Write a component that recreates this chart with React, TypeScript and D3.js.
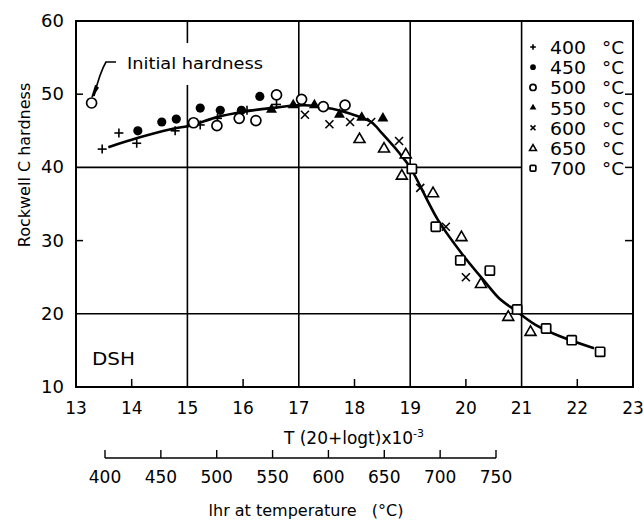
import React from "react";
import * as d3 from "d3";

const W = 643;
const H = 520;

const xTicks = [13, 14, 15, 16, 17, 18, 19, 20, 21, 22, 23];
const yTicks = [10, 20, 30, 40, 50, 60];
const tempTicks = [400, 450, 500, 550, 600, 650, 700, 750];
const xGrid = [15, 17, 19, 21];

const initialPoint: [number, number][] = [[13.28, 48.8]];
const s400: [number, number][] = [
  [13.47, 42.5], [13.77, 44.7], [14.09, 43.3], [14.78, 45.0], [15.23, 45.8],
  [15.54, 46.7], [16.07, 47.8], [16.6, 48.6],
];
const s450: [number, number][] = [
  [14.11, 45.0], [14.54, 46.2], [14.8, 46.6], [15.23, 48.1], [15.59, 47.8],
  [15.97, 47.8], [16.3, 49.7],
];
const s500: [number, number][] = [
  [15.11, 46.1], [15.53, 45.7], [15.93, 46.7], [16.23, 46.4], [16.6, 49.9],
  [17.05, 49.3], [17.44, 48.3], [17.83, 48.5],
];
const s550: [number, number][] = [
  [16.51, 47.9], [16.9, 48.5], [17.28, 48.5], [17.73, 47.2], [18.13, 46.8],
  [18.51, 46.7],
];
const s600: [number, number][] = [
  [17.11, 47.2], [17.55, 45.9], [17.92, 46.2], [18.3, 46.2], [18.8, 43.6],
  [19.18, 37.2], [19.64, 31.9], [20.0, 25.0],
];
const s650: [number, number][] = [
  [18.09, 43.9], [18.53, 42.6], [18.92, 41.8], [18.85, 38.9], [19.41, 36.5],
  [19.92, 30.5], [20.27, 24.1], [20.76, 19.6], [21.16, 17.55],
];
const s700: [number, number][] = [
  [19.03, 39.8], [19.46, 31.9], [19.9, 27.3], [20.43, 25.9], [20.92, 20.6],
  [21.44, 18.0], [21.9, 16.4], [22.41, 14.8],
];
const curve: [number, number][] = [
  [13.58, 42.75], [14.1, 44.0], [14.7, 45.2], [15.1, 45.8], [15.5, 46.8],
  [16.0, 47.6], [16.5, 48.1], [17.1, 48.5], [17.6, 48.0], [17.9, 47.4],
  [18.3, 46.2], [18.5, 44.6], [18.8, 42.0], [19.0, 40.0], [19.5, 32.8],
  [19.95, 28.0], [20.35, 24.3], [20.6, 22.1], [20.9, 20.4], [21.25, 18.5],
  [21.7, 16.9], [22.3, 15.3],
];

const legendLabels = ["400", "450", "500", "550", "600", "650", "700"];
type Kind = "plus" | "dot" | "circle" | "tri" | "x" | "otri" | "square";
const kinds: Kind[] = ["plus", "dot", "circle", "tri", "x", "otri", "square"];
const seriesList = [s400, s450, s500, s550, s600, s650, s700];

const FONT = "DejaVu Sans, Arial, sans-serif";

function Marker({ kind, cx, cy, s = 1 }: { kind: Kind; cx: number; cy: number; s?: number }) {
  const sw = 1.6;
  if (kind === "plus") {
    const a = 4.5 * s;
    return (
      <g stroke="#000" strokeWidth={sw}>
        <line x1={cx - a} y1={cy} x2={cx + a} y2={cy} />
        <line x1={cx} y1={cy - a} x2={cx} y2={cy + a} />
      </g>
    );
  }
  if (kind === "x") {
    const a = 4 * s;
    return (
      <g stroke="#000" strokeWidth={sw}>
        <line x1={cx - a} y1={cy - a} x2={cx + a} y2={cy + a} />
        <line x1={cx - a} y1={cy + a} x2={cx + a} y2={cy - a} />
      </g>
    );
  }
  if (kind === "dot") return <circle cx={cx} cy={cy} r={4.6 * s} fill="#000" />;
  if (kind === "circle")
    return <circle cx={cx} cy={cy} r={5 * s} fill="#fff" stroke="#000" strokeWidth={1.7} />;
  if (kind === "square") {
    const a = 4.6 * s;
    return <rect x={cx - a} y={cy - a} width={2 * a} height={2 * a} rx={1} fill="#fff" stroke="#000" strokeWidth={1.7} />;
  }
  const sym = d3.symbol().type(d3.symbolTriangle).size(52 * s * s)();
  if (kind === "tri") return <path d={sym || ""} transform={`translate(${cx},${cy})`} fill="#000" />;
  return <path d={sym || ""} transform={`translate(${cx},${cy + 0.5})`} fill="#fff" stroke="#000" strokeWidth={1.6} />;
}

export default function App() {
  const x = d3.scaleLinear().domain([13, 23]).range([76, 633]);
  const y = d3.scaleLinear().domain([10, 60]).range([387, 21]);
  const t = d3.scaleLinear().domain([400, 750]).range([105, 496]);
  const line = d3
    .line<[number, number]>()
    .x((d) => x(d[0]))
    .y((d) => y(d[1]))
    .curve(d3.curveCatmullRom.alpha(0.5));

  const x0 = x(13), x1 = x(23), y0 = y(10), y1 = y(60);
  const tempY = 458;

  return (
    <svg width={W} height={H} style={{ position: "absolute", left: 0, top: 0, background: "#fff" }} fontFamily={FONT}>
      <rect x={0} y={0} width={W} height={H} fill="#fff" />
      {/* grid lines */}
      {xGrid.map((v) =>
        v === 15 ? (
          <g key={v}>
            <line x1={x(v)} x2={x(v)} y1={y1} y2={43} stroke="#000" strokeWidth={1.6} />
            <line x1={x(v)} x2={x(v)} y1={85} y2={y0} stroke="#000" strokeWidth={1.6} />
          </g>
        ) : (
          <line key={v} x1={x(v)} x2={x(v)} y1={y1} y2={y0} stroke="#000" strokeWidth={1.6} />
        )
      )}
      <line x1={x0} x2={x(21)} y1={y(40)} y2={y(40)} stroke="#000" strokeWidth={1.6} />
      <line x1={x0} x2={x1} y1={y(20)} y2={y(20)} stroke="#000" strokeWidth={1.6} />
      {/* ticks */}
      {[30, 50].map((v) => (
        <line key={"l" + v} x1={x0} x2={x0 + 7} y1={y(v)} y2={y(v)} stroke="#000" strokeWidth={1.5} />
      ))}
      {[30, 40, 50].map((v) => (
        <line key={"r" + v} x1={x1} x2={x1 - 8} y1={y(v)} y2={y(v)} stroke="#000" strokeWidth={1.5} />
      ))}
      {[14, 16, 18, 20, 22].map((v) => (
        <line key={"b" + v} x1={x(v)} x2={x(v)} y1={y0} y2={y0 - 8} stroke="#000" strokeWidth={1.5} />
      ))}
      {/* frame */}
      <rect x={x0} y={y1} width={x1 - x0} height={y0 - y1} fill="none" stroke="#000" strokeWidth={2} />

      {/* curve */}
      <path d={line(curve) || ""} fill="none" stroke="#000" strokeWidth={2.6} />

      {/* data markers */}
      {seriesList.map((s, i) =>
        s.map((d, j) => <Marker key={i + "-" + j} kind={kinds[i]} cx={x(d[0])} cy={y(d[1])} />)
      )}
      {initialPoint.map((d, j) => (
        <Marker key={"init" + j} kind="circle" cx={x(d[0])} cy={y(d[1])} />
      ))}

      {/* initial hardness label */}
      <path d="M116,62 L106,62 Q100,72 94,96" fill="none" stroke="#000" strokeWidth={1.6} />
      <path d="M95.5,86 L92,97 L98,88 Z" fill="#000" stroke="#000" strokeWidth={1.5} />
      <text x={127} y={69} fontSize={16} textLength={136} lengthAdjust="spacingAndGlyphs">Initial hardness</text>

      {/* DSH */}
      <text x={92} y={365} fontSize={17} textLength={43} lengthAdjust="spacingAndGlyphs">DSH</text>

      {/* legend */}
      {legendLabels.map((l, i) => {
        const ly = 48 + i * 20.2;
        return (
          <g key={l}>
            <Marker kind={kinds[i]} cx={533} cy={ly - 1} s={0.62} />
            <text x={550} y={ly + 6} fontSize={18} textLength={36} lengthAdjust="spacingAndGlyphs">{l}</text>
            <text x={602} y={ly + 6} fontSize={18} textLength={22} lengthAdjust="spacingAndGlyphs">°C</text>
          </g>
        );
      })}

      {/* y tick labels */}
      {yTicks.map((v) => (
        <text key={v} x={64} y={y(v) + 6} fontSize={18} textAnchor="end">{v}</text>
      ))}
      {/* x tick labels */}
      {xTicks.map((v) => (
        <text key={v} x={x(v)} y={414} fontSize={17} textAnchor="middle">{v}</text>
      ))}

      {/* y axis title */}
      <text transform={`translate(30,165) rotate(-90)`} fontSize={16} textAnchor="middle">Rockwell C hardness</text>

      {/* x title */}
      <text x={354} y={444} fontSize={17} textAnchor="middle">
        T (20+logt)x10<tspan dy={-7} fontSize={11}>-3</tspan>
      </text>

      {/* temperature axis */}
      <line x1={t(400)} x2={t(750)} y1={tempY} y2={tempY} stroke="#000" strokeWidth={1.6} />
      {tempTicks.map((v) => (
        <g key={v}>
          <line x1={t(v)} x2={t(v)} y1={tempY} y2={tempY - 8} stroke="#000" strokeWidth={1.4} />
          <text x={t(v)} y={483} fontSize={17} textAnchor="middle">{v}</text>
        </g>
      ))}
      <text x={306} y={516} fontSize={16} textAnchor="middle">{"lhr at temperature\u00a0\u00a0\u00a0(°C)"}</text>
    </svg>
  );
}
